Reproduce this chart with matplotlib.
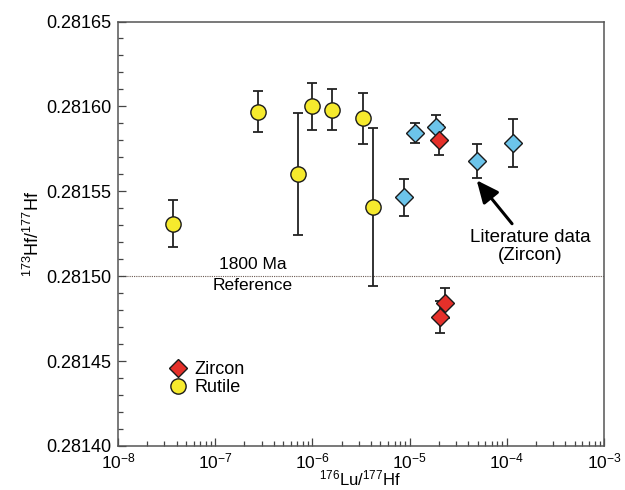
import matplotlib
matplotlib.use("Agg")
import matplotlib.pyplot as plt
from matplotlib.lines import Line2D
from matplotlib.ticker import FormatStrFormatter, MultipleLocator, LogLocator

plt.rcParams['font.family'] = ['Liberation Sans', 'DejaVu Sans']
plt.rcParams['mathtext.default'] = 'regular'

# rutile analyses
rut_lu = [3.7e-8, 2.77e-7, 7.06e-7, 1.0e-6, 1.6e-6, 3.29e-6, 4.24e-6]
rut_hf = [0.281531, 0.281597, 0.281560, 0.281600, 0.281598, 0.281593, 0.281541]
rut_err = [1.40e-5, 1.20e-5, 3.60e-5, 1.38e-5, 1.20e-5, 1.49e-5, 4.65e-5]

# zircon analyses
zir_lu = [2.02e-5, 2.31e-5, 2.06e-5]
zir_hf = [0.281580, 0.281484, 0.281476]
zir_err = [0.88e-5, 0.88e-5, 0.94e-5]

# literature zircon data
lit_lu = [8.75e-6, 1.14e-5, 1.86e-5, 4.9e-5, 1.17e-4]
lit_hf = [0.2815465, 0.2815842, 0.2815877, 0.281568, 0.2815783]
lit_err = [1.09e-5, 0.59e-5, 0.72e-5, 1.0e-5, 1.41e-5]

ref_value = 0.28150

RED = '#e5302a'
YELLOW = '#f6ea2d'
BLUE = '#6cc4ea'

fig = plt.figure(figsize=(6.25, 4.9), dpi=100)
ax = fig.add_axes([0.1888, 0.0898, 0.7776, 0.8663])

ax.axhline(ref_value, color='#6b5a52', lw=0.8, ls=(0, (1, 1)), zorder=1)

ebar = dict(fmt='none', ecolor='#222222', elinewidth=1.3, capsize=3.5, capthick=1.3, zorder=2)
ax.errorbar(lit_lu, lit_hf, yerr=lit_err, **ebar)
ax.errorbar(zir_lu, zir_hf, yerr=zir_err, **ebar)
ax.errorbar(rut_lu, rut_hf, yerr=rut_err, **ebar)

ax.plot(lit_lu, lit_hf, ls='none', marker='D', ms=9, mfc=BLUE, mec='#1a1a1a', mew=1.0, zorder=3)
ax.plot(zir_lu, zir_hf, ls='none', marker='D', ms=9, mfc=RED, mec='#1a1a1a', mew=1.0, zorder=4)
ax.plot(rut_lu, rut_hf, ls='none', marker='o', ms=11, mfc=YELLOW, mec='#1a1a1a', mew=1.0, zorder=4)

ax.set_xscale('log')
ax.set_xlim(1e-8, 1e-3)
ax.set_ylim(0.28140, 0.28165)
ax.yaxis.set_major_locator(MultipleLocator(0.00005))
ax.yaxis.set_minor_locator(MultipleLocator(0.00001))
ax.yaxis.set_major_formatter(FormatStrFormatter('%.5f'))
ax.xaxis.set_major_locator(LogLocator(base=10, numticks=10))
ax.xaxis.set_minor_locator(LogLocator(base=10, subs=range(2, 10), numticks=10))

ax.tick_params(which='both', direction='in', top=False, right=False,
               color='#444444', labelsize=13, width=0.9)
ax.tick_params(which='major', length=6)
ax.tick_params(which='minor', length=3.5)
ax.tick_params(axis='x', pad=4, labelsize=12.5)
ax.tick_params(axis='y', pad=5)
for sp in ax.spines.values():
    sp.set_color('#555555')
    sp.set_linewidth(1.1)

# x label placed against the bottom edge of the figure
fig.text(0.576, 0.003, '$^{176}$Lu/$^{177}$Hf', ha='center', va='bottom', fontsize=12)
ax.set_ylabel('$^{173}$Hf/$^{177}$Hf', fontsize=13, labelpad=2)

ax.text(2.45e-7, ref_value + 0.0000022, '1800 Ma', ha='center', va='bottom', fontsize=12.5)
ax.text(2.45e-7, ref_value - 0.0000010, 'Reference', ha='center', va='top', fontsize=12.5)

ax.annotate('Literature data\n(Zircon)', xy=(lit_lu[3], lit_hf[3] - 0.0000115),
            xytext=(1.75e-4, 0.281528), ha='center', va='top', fontsize=13.5,
            linespacing=1.1,
            arrowprops=dict(arrowstyle='-|>,head_length=1.0,head_width=0.45',
                            color='black', lw=2.2, shrinkA=2, shrinkB=0))

handles = [
    Line2D([], [], ls='none', marker='D', ms=9, mfc=RED, mec='#1a1a1a', mew=1.0),
    Line2D([], [], ls='none', marker='o', ms=11, mfc=YELLOW, mec='#1a1a1a', mew=1.0),
]
ax.legend(handles, ['Zircon', 'Rutile'], loc='upper left', bbox_to_anchor=(0.105, 0.2),
          frameon=False, fontsize=13, handlelength=1.0, handletextpad=0.4,
          labelspacing=0.05, borderpad=0, borderaxespad=0)

fig.savefig('out.png', dpi=100)
